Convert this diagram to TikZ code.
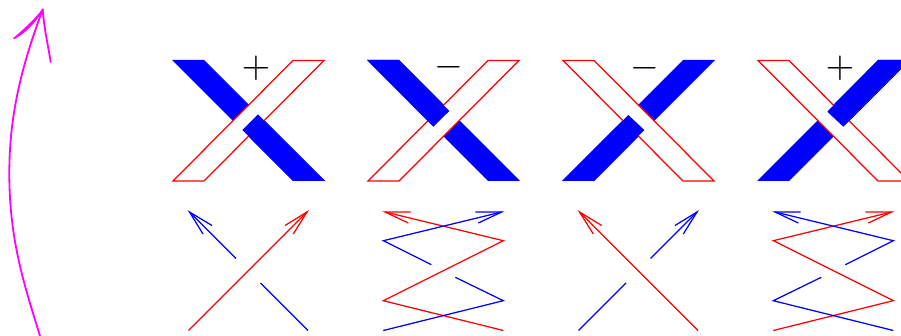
\documentclass[tikz,border=0pt]{standalone}
\definecolor{pureblue}{RGB}{0,0,255}
\definecolor{purered}{RGB}{255,0,0}
\definecolor{puremag}{RGB}{255,0,255}
\begin{document}
\begin{tikzpicture}[x=1pt,y=-1pt,
  bluefill/.style={fill=pureblue,draw=none},
  redband/.style={draw=purered,fill=white,line width=1.25pt,line join=miter},
  redline/.style={draw=purered,line width=1.25pt},
  blueline/.style={draw=pureblue,line width=1.25pt},
  magline/.style={draw=puremag,line width=1.8pt,line cap=round},
  signlabel/.style={scale=3.7,inner sep=0pt,text=black}]
\clip (0,0) rectangle (901,336);
% panel 1
\fill[bluefill] (172,60) -- (204,60) -- (325,181) -- (293,181) -- cycle;
\draw[redband] (293,60.5) -- (324,60.5) -- (204,181) -- (173,181) -- cycle;
\fill[bluefill] (242.3,130) -- (258,114.5) -- (325,181) -- (293,181) -- cycle;
\node[signlabel] (s1) at (256,68.3) {$+$};
% panel 2
\begin{scope}[xshift=195pt]
\fill[bluefill] (172,60) -- (204,60) -- (325,181) -- (293,181) -- cycle;
\draw[redband] (293,60.5) -- (324,60.5) -- (204,181) -- (173,181) -- cycle;
\fill[bluefill] (172,60) -- (204,60) -- (254.3,111) -- (238.3,126.7) -- cycle;
\node[signlabel] (s2) at (254.3,67.5) {$-$};
\end{scope}
% panel 3
\begin{scope}[xshift=390pt]
\fill[bluefill] (172,181) -- (204,181) -- (325,60) -- (293,60) -- cycle;
\draw[redband] (173,60.5) -- (204,60.5) -- (324,181) -- (293,181) -- cycle;
\fill[bluefill] (172,181) -- (204,181) -- (254.3,130) -- (238.3,115) -- cycle;
\node[signlabel] (s3) at (255,68) {$-$};
\end{scope}
% panel 4
\begin{scope}[xshift=585pt]
\fill[bluefill] (172,181) -- (204,181) -- (325,60) -- (293,60) -- cycle;
\draw[redband] (173,60.5) -- (204,60.5) -- (324,181) -- (293,181) -- cycle;
\fill[bluefill] (242.3,111.7) -- (258.3,126.7) -- (325,60) -- (293,60) -- cycle;
\node[signlabel] (s4) at (255,68.3) {$+$};
\end{scope}
% lower row A
\draw[blueline] (236,258.5) -- (189.5,212);
\draw[blueline] (212,225.5) -- (189.5,212) -- (203,234);
\draw[redline] (188.5,330.5) -- (307,212);
\draw[redline] (285,225.5) -- (307,212) -- (293.3,234);
\draw[blueline] (260.5,283) -- (308,330.5);
% lower row B
\draw[redline] (503.3,330.5) -- (383.3,300.7) -- (503.3,240.7) -- (385,212);
\draw[redline] (410.7,212) -- (385,212) -- (408.3,223);
\draw[blueline] (383.3,330.5) -- (503.3,300.7) -- (455.3,277.3);
\draw[blueline] (431.3,264.7) -- (383.3,240.7) -- (501.7,212);
\draw[blueline] (475.3,212) -- (501.7,212) -- (478.3,223);
% lower row C
\draw[redline] (698,330.5) -- (579.5,212);
\draw[redline] (601.7,225.5) -- (579.5,212) -- (593.3,234);
\draw[blueline] (578.5,330.5) -- (626,283);
\draw[blueline] (650.5,258.5) -- (697,212);
\draw[blueline] (675,225.5) -- (697,212) -- (683.3,234);
% lower row D
\draw[redline] (773.3,330.5) -- (893.3,300.7) -- (773.3,240.7) -- (891.7,212);
\draw[redline] (865.3,212) -- (891.7,212) -- (868.3,223);
\draw[blueline] (893.3,330.5) -- (773.3,300.7) -- (821.3,277.3);
\draw[blueline] (845.3,264.7) -- (893.3,240.7) -- (775,212);
\draw[blueline] (800.7,212) -- (775,212) -- (798.3,223);
% magenta arrow
\draw[magline] (40,336) .. controls (24,284) and (9.3,240) .. (9.3,173) .. controls (9.3,110) and (24,60) .. (42.7,9.5);
\draw[magline] (42.7,9.5) .. controls (44,28) and (48,45) .. (50.7,62);
\filldraw[fill=puremag,draw=puremag,line width=1.5pt,line cap=round,line join=round] (14,38.5) .. controls (24,33) and (34,24) .. (42.7,9.5) .. controls (37,18) and (26,28) .. (14,38.5) -- cycle;
\end{tikzpicture}
\end{document}
